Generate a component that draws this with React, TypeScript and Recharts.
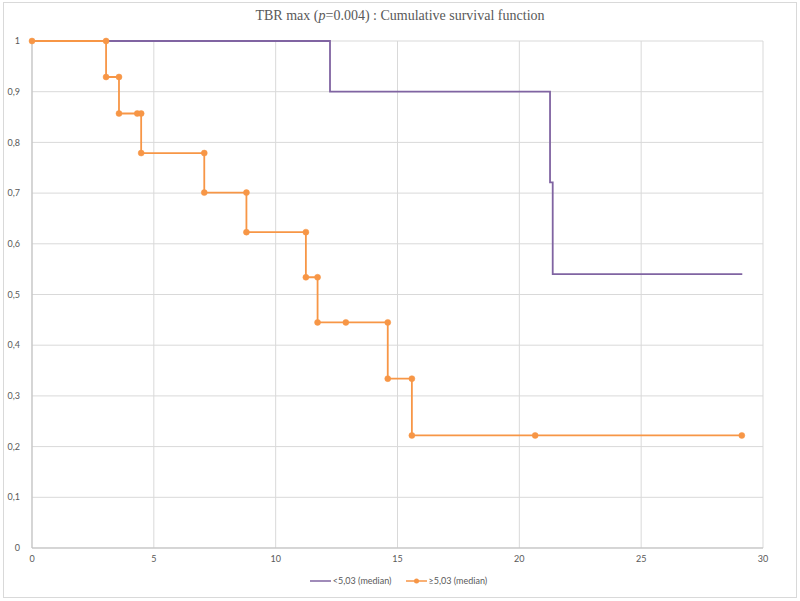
import React from "react";
import {
  LineChart,
  Line,
  XAxis,
  YAxis,
  CartesianGrid,
  Legend,
} from "recharts";

// Kaplan-Meier corners (time in months, survival)
const lowTimes = [0, 12.23, 12.23, 21.26, 21.26, 21.37, 21.37, 29.15];
const lowSurv = [1, 1, 0.9, 0.9, 0.721, 0.721, 0.54, 0.54];

const highTimes = [
  0, 3.04, 3.04, 3.57, 3.57, 4.32, 4.48, 4.48, 7.07, 7.07, 8.8, 8.8, 11.24,
  11.24, 11.72, 11.72, 12.88, 14.6, 14.6, 15.59, 15.59, 20.65, 29.13,
];
const highSurv = [
  1, 1, 0.929, 0.929, 0.857, 0.857, 0.857, 0.779, 0.779, 0.701, 0.701, 0.623,
  0.623, 0.534, 0.534, 0.445, 0.445, 0.445, 0.334, 0.334, 0.222, 0.222, 0.222,
];

const xTicks = [0, 5, 10, 15, 20, 25, 30];
const yTicks = [0, 0.1, 0.2, 0.3, 0.4, 0.5, 0.6, 0.7, 0.8, 0.9, 1];

const seriesNames = ["<5,03 (median)", "≥5,03 (median)"];

const PURPLE = "#8064A2";
const ORANGE = "#F79646";
const TEXT = "#595959";

const lowData = lowTimes.map((t, i) => ({ t, s: lowSurv[i] }));
const highData = highTimes.map((t, i) => ({ t, s: highSurv[i] }));

const LegendBox = () => (
  <div
    style={{
      display: "flex",
      justifyContent: "center",
      alignItems: "center",
      fontFamily: "Lato, 'Open Sans', sans-serif",
      fontSize: 9,
      color: TEXT,
      gap: 14,
      paddingLeft: 34,
    }}
  >
    <span style={{ display: "flex", alignItems: "center" }}>
      <svg width={21} height={8} style={{ marginRight: 2 }}>
        <line x1={0} y1={4} x2={21} y2={4} stroke={PURPLE} strokeWidth={1.5} />
      </svg>
      {seriesNames[0]}
    </span>
    <span style={{ display: "flex", alignItems: "center" }}>
      <svg width={21} height={8} style={{ marginRight: 2 }}>
        <line x1={0} y1={4} x2={21} y2={4} stroke={ORANGE} strokeWidth={1.5} />
        <circle cx={10.5} cy={4} r={2.5} fill={ORANGE} />
      </svg>
      {seriesNames[1]}
    </span>
  </div>
);

export default function App() {
  return (
    <div
      style={{
        position: "absolute",
        left: 0,
        top: 0,
        width: 800,
        height: 601,
        background: "#fff",
      }}
    >
      <div
        style={{
          position: "absolute",
          left: 3,
          top: 2,
          width: 792,
          height: 594,
          border: "1px solid #d9d9d9",
        }}
      />
      <div
        style={{
          position: "absolute",
          left: 0,
          top: 8,
          width: 800,
          textAlign: "center",
          fontFamily: "'Liberation Serif', serif",
          fontSize: 14,
          color: TEXT,
        }}
      >
        TBR max (<i>p</i>=0.004) : Cumulative survival function
      </div>
      <LineChart
        width={800}
        height={601}
        margin={{ top: 41, right: 37, left: 0, bottom: 6 }}
        style={{ position: "absolute", left: 0, top: 0 }}
      >
        <CartesianGrid stroke="#d9d9d9" />
        <XAxis
          type="number"
          dataKey="t"
          domain={[0, 30]}
          ticks={xTicks}
          height={27}
          tickLine={false}
          axisLine={{ stroke: "#bfbfbf" }}
          tick={{ fill: TEXT, fontSize: 9, fontFamily: "Lato, sans-serif" }}
        />
        <YAxis
          type="number"
          dataKey="s"
          domain={[0, 1]}
          ticks={yTicks}
          width={32}
          tickLine={false}
          tickMargin={6}
          axisLine={{ stroke: "#bfbfbf" }}
          tickFormatter={(v: number) => String(v).replace(".", ",")}
          tick={{ fill: TEXT, fontSize: 9, fontFamily: "Lato, sans-serif" }}
        />
        <Legend verticalAlign="bottom" height={20} content={<LegendBox />} />
        <Line
          data={lowData}
          dataKey="s"
          name={seriesNames[0]}
          stroke={PURPLE}
          strokeWidth={1.8}
          dot={false}
          isAnimationActive={false}
        />
        <Line
          data={highData}
          dataKey="s"
          name={seriesNames[1]}
          stroke={ORANGE}
          strokeWidth={1.8}
          dot={{ r: 3, fill: ORANGE, stroke: ORANGE, strokeWidth: 0.5 }}
          isAnimationActive={false}
        />
      </LineChart>
    </div>
  );
}
